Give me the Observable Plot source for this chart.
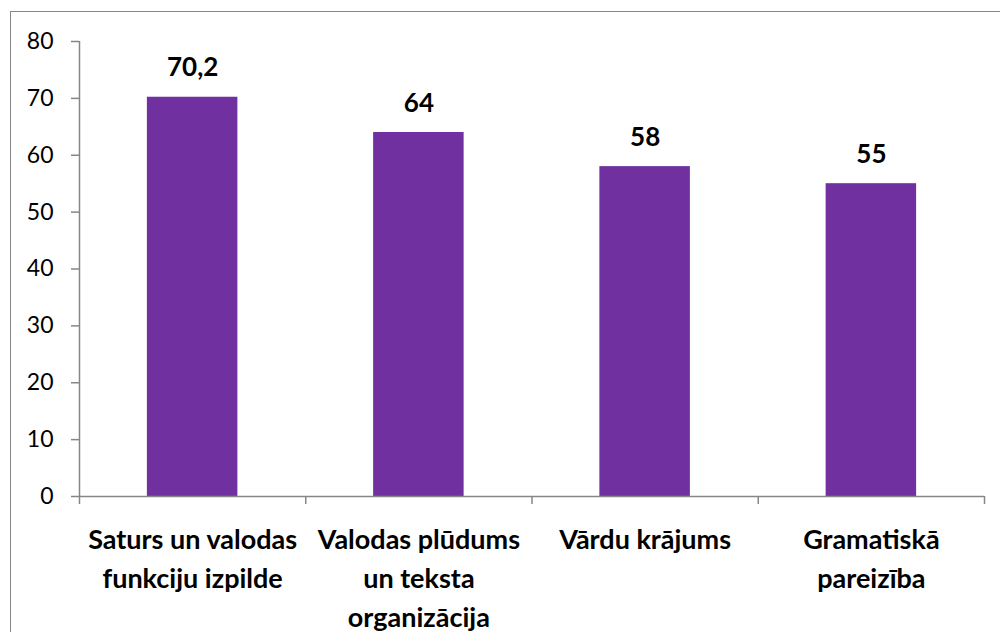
<!DOCTYPE html>
<html>
<head>
<meta charset="utf-8">
<script src="https://cdn.jsdelivr.net/npm/d3@7"></script>
<script src="https://cdn.jsdelivr.net/npm/@observablehq/plot@0.6"></script>
<style>
  html, body { margin: 0; padding: 0; background: #fff; overflow: hidden; }
  #wrap { position: relative; width: 1000px; height: 632px; }
  #border { position: absolute; left: 10px; top: 11px; width: 1000px; height: 700px; border: 1.5px solid #888; box-sizing: border-box; }
  #chart { position: absolute; left: 0; top: 0; }
</style>
</head>
<body>
<div id="wrap"><div id="border"></div><div id="chart"></div></div>
<script>
const categories = ["Saturs un valodas\nfunkciju izpilde", "Valodas plūdums\nun teksta\norganizācija", "Vārdu krājums", "Gramatiskā\npareizība"];
const values = [70.2, 64, 58, 55];
const valueLabels = ["70,2", "64", "58", "55"];
const yTicks = [0, 10, 20, 30, 40, 50, 60, 70, 80];

const data = categories.map((c, i) => ({c, v: values[i], i, label: valueLabels[i]}));
const FONT = "Lato, 'Noto Sans', sans-serif";
const AXIS = "#868686";

const chart = Plot.plot({
  width: 1000,
  height: 632,
  marginLeft: 79,
  marginRight: 16,
  marginTop: 41,
  marginBottom: 136,
  style: {fontFamily: FONT, background: "transparent", color: "#000"},
  x: {domain: [0, categories.length], axis: null},
  y: {domain: [0, 80], axis: null},
  marks: [
    Plot.rectY(data, {x1: d => d.i + 0.3, x2: d => d.i + 0.7, y: "v", fill: "#7030A0"}),
    Plot.axisY({ticks: yTicks, tickSize: 8, tickFormat: () => "", stroke: AXIS, strokeWidth: 1.5, label: null}),
    Plot.text(yTicks, {x: 0, y: d => d, text: d => String(d), textAnchor: "end", dx: -26, fontSize: 23, fill: "#000"}),
    Plot.axisX({ticks: d3.range(categories.length + 1), tickSize: 8, tickFormat: () => "", stroke: AXIS, strokeWidth: 1.5, label: null}),
    Plot.ruleX([0], {stroke: AXIS, strokeWidth: 1.5}),
    Plot.ruleY([0], {stroke: AXIS, strokeWidth: 1.5}),
    Plot.text(data, {x: d => d.i + 0.5, y: "v", text: "label", lineAnchor: "bottom", dy: -21, fontSize: 26, fontWeight: "bold", fill: "#000"}),
    Plot.text(data, {x: d => d.i + 0.5, y: 0, text: "c", lineAnchor: "top", dy: 25, fontSize: 27, fontWeight: "bold", lineHeight: 1.44, fill: "#000"})
  ]
});
document.getElementById("chart").appendChild(chart);
</script>
</body>
</html>
